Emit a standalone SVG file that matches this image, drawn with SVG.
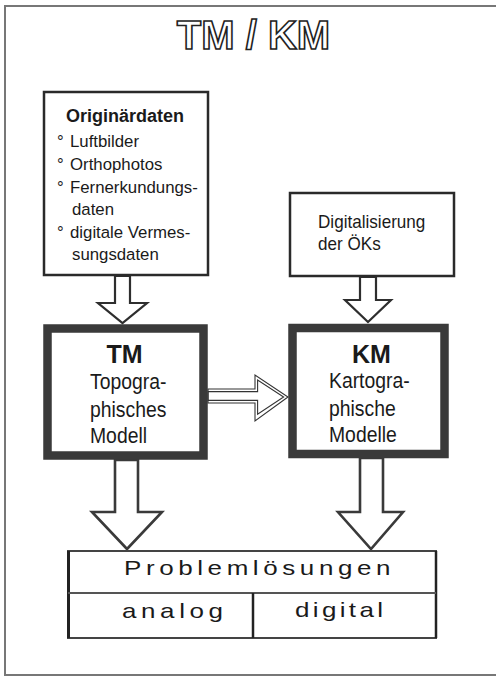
<svg xmlns="http://www.w3.org/2000/svg" width="496" height="676" viewBox="0 0 496 676">
<style>
text{font-family:"Liberation Sans",Arial,sans-serif;fill:#1a1a1a}
.t{font-size:16.8px}
.m{font-size:22px}
.b{font-weight:bold}
.box{fill:#fff;stroke:#2a2a2a;stroke-width:2.5}
.thick{fill:#fff;stroke:#3a3a3a;stroke-width:8.5}
.arr{fill:#fff;stroke:#2e2e2e;stroke-width:2.2;stroke-linejoin:miter}
.arr2{fill:#fff;stroke:#3a3a3a;stroke-width:2.6;stroke-linejoin:miter}
.thin{fill:none;stroke:#333;stroke-width:1.1;stroke-linejoin:miter}
.wide{font-size:20px}
</style>
<rect x="0" y="0" width="496" height="676" fill="#fff"/>
<g id="frame">
<rect x="5" y="6" width="497" height="669" fill="none" stroke="#777" stroke-width="2"/>
</g>
<g id="title">
<text x="253.5" y="49" text-anchor="middle" font-size="40" font-weight="bold" style="fill:#fff;stroke:#222;stroke-width:1.6;font-family:'Liberation Sans',Arial,sans-serif">TM / KM</text>
</g>
<g id="connectors">
<polygon class="arr" points="115,276 130,276 130,303 147,303 122.5,323 98,303 115,303"/>
<polygon class="arr" points="360,277 376,277 376,300 391,300 368,322 345,300 360,300"/>
<polygon class="arr2" points="115,460 138,460 138,512 162,512 127,549 92,512 115,512"/>
<polygon class="arr2" points="360,458 383,458 383,512 403,512 371,549 338,512 360,512"/>
<g id="mid-arrow">
<polygon points="208,389 255,389 255,375 288,397 255,421 255,403 208,403" class="thin" style="fill:#fff"/>
<polygon points="208,391.6 257.6,391.6 257.6,380 283.6,397 257.6,414.2 257.6,400.4 208,400.4" class="thin"/>
</g>
</g>
<g id="originaerdaten">
<rect class="box" x="44" y="92" width="164" height="183"/>
<text x="66" y="122" class="b" font-size="18">Originärdaten</text>
<text class="t" x="57" y="147">°</text><text class="t" x="70" y="147">Luftbilder</text>
<text class="t" x="57" y="170">°</text><text class="t" x="70" y="170">Orthophotos</text>
<text class="t" x="57" y="193">°</text><text class="t" x="70" y="193">Fernerkundungs-</text>
<text class="t" x="72" y="215">daten</text>
<text class="t" x="57" y="238">°</text><text class="t" x="70" y="238">digitale Vermes-</text>
<text class="t" x="72" y="260">sungsdaten</text>
</g>
<g id="digitalisierung">
<rect class="box" x="290" y="193" width="164" height="83"/>
<text transform="translate(318,228) scale(0.95,1)" style="font-size:18px">Digitalisierung</text>
<text transform="translate(318,250) scale(0.95,1)" style="font-size:18px">der ÖKs</text>
</g>
<g id="tm">
<rect class="thick" x="47.5" y="328.5" width="156" height="127"/>
<text x="124.5" y="363" text-anchor="middle" class="b" font-size="25">TM</text>
<text class="m" transform="translate(90,389) scale(0.88,1)">Topogra-</text>
<text class="m" transform="translate(90,417) scale(0.88,1)">phisches</text>
<text class="m" transform="translate(90,443) scale(0.88,1)">Modell</text>
</g>
<g id="km">
<rect class="thick" x="292.5" y="328" width="152" height="126"/>
<text x="371.5" y="363" text-anchor="middle" class="b" font-size="25">KM</text>
<text class="m" transform="translate(329,388) scale(0.88,1)">Kartogra-</text>
<text class="m" transform="translate(329,416) scale(0.88,1)">phische</text>
<text class="m" transform="translate(329,442) scale(0.88,1)">Modelle</text>
</g>
<g id="problemloesungen">
<rect x="68" y="551" width="368" height="87" fill="#fff" stroke="#444" stroke-width="2"/>
<line x1="68.5" y1="551" x2="68.5" y2="638" stroke="#222" stroke-width="3"/>
<line x1="436" y1="551" x2="436" y2="638" stroke="#222" stroke-width="2.5"/>
<line x1="68" y1="593" x2="436" y2="593" stroke="#555" stroke-width="2"/>
<line x1="253" y1="593" x2="253" y2="638" stroke="#222" stroke-width="2.5"/>
<text class="wide" transform="translate(124,575) scale(1.3,1)" x="0" y="0" textLength="205" lengthAdjust="spacing">Problemlösungen</text>
<text class="wide" transform="translate(122,618) scale(1.3,1)" x="0" y="0" textLength="77.7" lengthAdjust="spacing">analog</text>
<text class="wide" transform="translate(295,617) scale(1.3,1)" x="0" y="0" textLength="67.7" lengthAdjust="spacing">digital</text>
</g>
</svg>
